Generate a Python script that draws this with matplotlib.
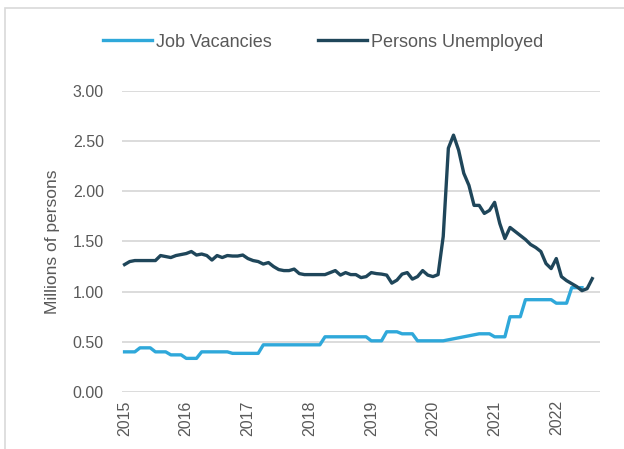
import numpy as np
import matplotlib
matplotlib.use("Agg")
import matplotlib.pyplot as plt
from matplotlib.patches import Rectangle

# monthly, Jan 2015 - Aug 2022 (millions of persons)
years = ["2015", "2016", "2017", "2018", "2019", "2020", "2021", "2022"]

unemployed = [
    1.27, 1.30, 1.31, 1.31, 1.31, 1.31, 1.31, 1.36, 1.35, 1.34, 1.36, 1.37,  # 2015
    1.38, 1.40, 1.365, 1.375, 1.36, 1.315, 1.36, 1.34, 1.36, 1.355, 1.355, 1.365,  # 2016
    1.33, 1.31, 1.30, 1.275, 1.29, 1.25, 1.22, 1.21, 1.21, 1.225, 1.18, 1.17,  # 2017
    1.17, 1.17, 1.17, 1.17, 1.19, 1.21, 1.165, 1.19, 1.17, 1.17, 1.14, 1.15,  # 2018
    1.19, 1.18, 1.175, 1.165, 1.085, 1.115, 1.175, 1.19, 1.125, 1.15, 1.21, 1.165,  # 2019
    1.15, 1.17, 1.55, 2.43, 2.56, 2.41, 2.18, 2.06, 1.86, 1.86, 1.78, 1.81,  # 2020
    1.89, 1.68, 1.53, 1.64, 1.60, 1.56, 1.52, 1.47, 1.44, 1.40, 1.28, 1.23,  # 2021
    1.33, 1.15, 1.11, 1.08, 1.05, 1.01, 1.03, 1.13,  # 2022
]

vacancies = [
    0.40, 0.40, 0.40, 0.44, 0.44, 0.44, 0.40, 0.40, 0.40, 0.37, 0.37, 0.37,
    0.335, 0.335, 0.335, 0.40, 0.40, 0.40, 0.40, 0.40, 0.40, 0.385, 0.385, 0.385,
    0.385, 0.385, 0.385, 0.47, 0.47, 0.47, 0.47, 0.47, 0.47, 0.47, 0.47, 0.47,
    0.47, 0.47, 0.47, 0.55, 0.55, 0.55, 0.55, 0.55, 0.55, 0.55, 0.55, 0.55,
    0.51, 0.51, 0.51, 0.60, 0.60, 0.60, 0.58, 0.58, 0.58, 0.51, 0.51, 0.51,
    0.51, 0.51, 0.51, 0.52, 0.53, 0.54, 0.55, 0.56, 0.57, 0.58, 0.58, 0.58,
    0.55, 0.55, 0.55, 0.75, 0.75, 0.75, 0.92, 0.92, 0.92, 0.92, 0.92, 0.92,
    0.885, 0.885, 0.885, 1.04, 1.04, 1.04,
]

plt.rcParams['font.family'] = ['Liberation Sans', 'DejaVu Sans']

fig = plt.figure(figsize=(6.24, 4.49), dpi=100)
ax = fig.add_axes([0.1955, 0.127, 0.766, 0.6703])

# light frame around the chart area
fig.patches.append(Rectangle((5 / 624, -0.1), 1.2, 1 - 8 / 449 + 0.1,
                             transform=fig.transFigure, fill=False,
                             edgecolor='#d9d9d9', linewidth=1.2))

x_u = np.arange(len(unemployed))
x_v = np.arange(len(vacancies))
ax.plot(x_v, vacancies, color='#2fa8da', linewidth=2.4, label='Job Vacancies',
        solid_joinstyle='round')
ax.plot(x_u, unemployed, color='#1f465a', linewidth=2.4, label='Persons Unemployed',
        solid_joinstyle='round')

ax.set_xlim(-0.5, 92.5)
ax.set_ylim(0, 3.0)
ax.set_yticks(np.arange(0, 3.01, 0.5))
ax.set_yticklabels([f"{v:.2f}" for v in np.arange(0, 3.01, 0.5)])
ax.set_xticks(np.arange(0, 85, 12))
ax.set_xticklabels(years, rotation=90)

ax.grid(axis='y', color='#d9d9d9', linewidth=1.3)
ax.set_axisbelow(True)
for s in ax.spines.values():
    s.set_visible(False)
ax.tick_params(length=0, colors='#595959', labelsize=11.5)
ax.tick_params(axis='y', pad=13)
ax.tick_params(axis='x', pad=6)

ax.set_ylabel('Millions of persons', color='#595959', fontsize=12.5, labelpad=9)

fig.legend(loc='center', bbox_to_anchor=(0.518, 0.906), ncol=2, frameon=False,
           fontsize=13, handlelength=2.7, columnspacing=2.6, handletextpad=0.2,
           labelcolor='#595959')

fig.savefig('out.png', dpi=100)
